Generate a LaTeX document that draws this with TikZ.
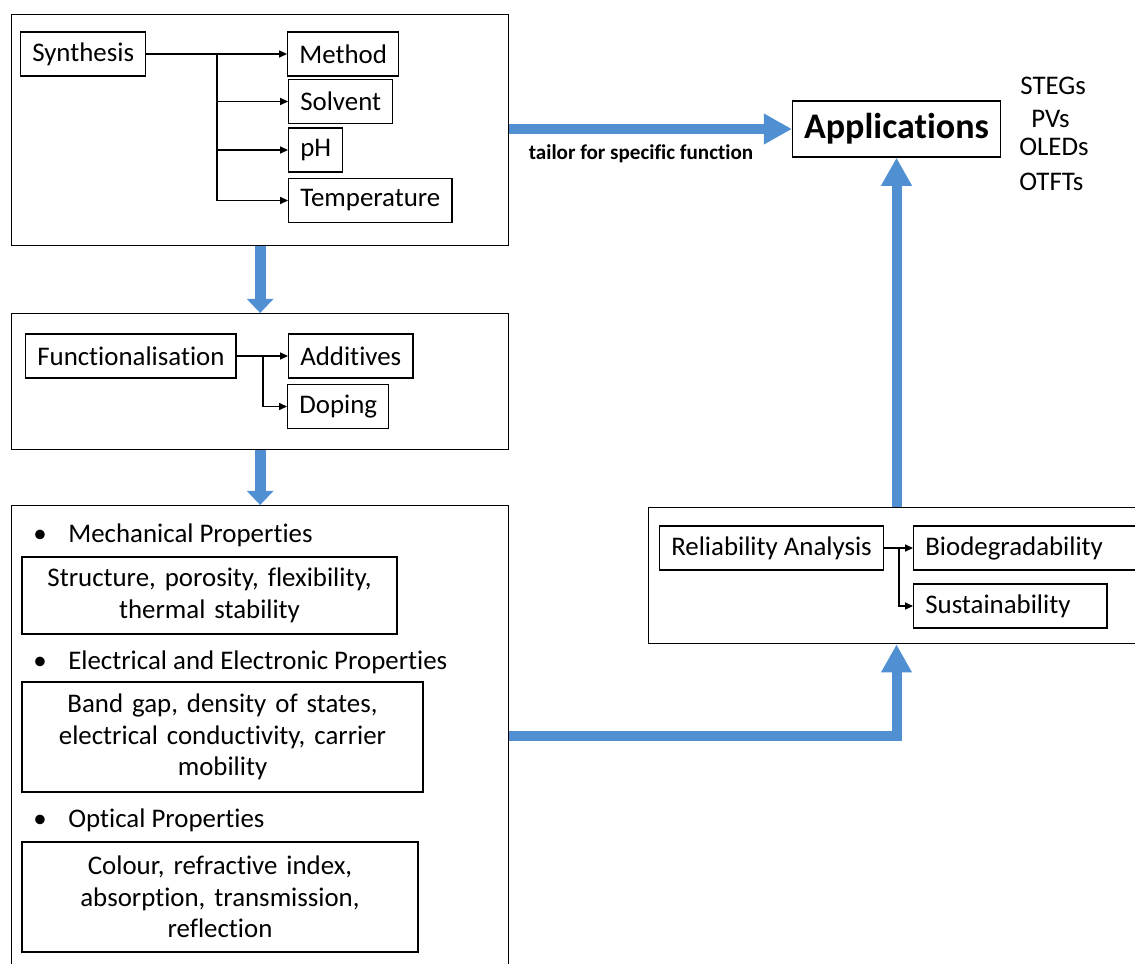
\documentclass[tikz,border=0pt]{standalone}
\usepackage{fontspec}
\setmainfont{Carlito}[Ligatures=NoCommon]
\usepackage{tikz}
\usetikzlibrary{arrows.meta}
\usetikzlibrary{calc}

\definecolor{arrowBlue}{RGB}{79,143,210}
\frenchspacing

\begin{document}
\begin{tikzpicture}[x=0.02cm, y=-0.02cm,
    font=\fontsize{15.3}{18}\selectfont,
    frame/.style={draw, line width=0.8pt, inner sep=0pt, anchor=north west},
    item/.style={draw, line width=0.8pt, inner xsep=6.6pt, inner ysep=0pt, minimum height=0.88cm, anchor=west},
    detail/.style={draw, line width=0.8pt, inner sep=0pt, align=center},
    heading/.style={inner sep=0pt, anchor=west},
    branch/.style={line width=0.75pt, -{Triangle[length=4.5pt, width=4pt]}},
    flowArrow/.style={arrowBlue, line width=6.2pt, -{Triangle[width=14.7pt, length=8pt]}},
    bigArrow/.style={arrowBlue, line width=5.7pt, line join=miter, -{Triangle[width=16.5pt, length=16pt]}}]

    % Page (picture is given in pixels, y downwards)
    \useasboundingbox (0,0) rectangle (1135,963);
    \clip (0,0) rectangle (1135,963);

    % Frames
    \node[frame, minimum width=9.94cm, minimum height=4.62cm] (synthFrame) at (11,14) {};
    \node[frame, minimum width=9.94cm, minimum height=2.72cm] (funcFrame) at (11,313) {};
    % runs off the bottom of the page
    \node[frame, minimum width=9.94cm, minimum height=9.6cm] (propFrame) at (11,505) {};
    % runs off the right of the page
    \node[frame, minimum width=10.04cm, minimum height=2.72cm] (relFrame) at (648,507) {};

    % Synthesis
    \node[item] (synth) at (20,54) {Synthesis};
    \node[item] (method) at (287,54) {Method};
    \node[item] (solvent) at (288,101.5) {Solvent};
    \node[item] (ph) at (288,150) {pH};
    \node[item] (temp) at (288,200.5) {Temperature};

    \coordinate (synthSplit) at (217,54);
    \draw[branch] (synth.east) -- (method.west);
    \draw[branch] (synthSplit) |- (solvent.west);
    \draw[branch] (synthSplit) |- (ph.west);
    \draw[branch] (synthSplit) |- (temp.west);

    % Functionalisation
    \node[item] (func) at (25,356) {Functionalisation};
    \node[item] (additives) at (288,356) {Additives};
    \node[item] (doping) at (287,406.5) {Doping};

    \coordinate (funcSplit) at (263,356);
    \draw[branch] (func.east) -- (additives.west);
    \draw[branch] (funcSplit) |- (doping.west);

    % Properties
    \node[heading] (mechHead) at (33,535) {\makebox[0.7cm][l]{\textbullet}Mechanical Properties};
    \node[detail, text width=7.5cm, minimum height=1.54cm] (mechBox) at (209.5,595.5)
        {Structure, porosity, flexibility,\\ thermal stability};
    \node[heading] (elecHead) at (33,662) {\makebox[0.7cm][l]{\textbullet}Electrical and Electronic Properties};
    \node[detail, text width=8.02cm, minimum height=2.2cm] (elecBox) at (222.5,737)
        {Band gap, density of states,\\ electrical conductivity, carrier\\ mobility};
    \node[heading] (optHead) at (33,820) {\makebox[0.7cm][l]{\textbullet}Optical Properties};
    \node[detail, text width=7.92cm, minimum height=2.2cm] (optBox) at (220,897)
        {Colour, refractive index,\\ absorption, transmission,\\ reflection};

    % Reliability
    \node[item] (rel) at (659,548) {Reliability Analysis};
    \node[item, text width=4.4cm, align=left] (biodeg) at (913,548) {Biodegradability};
    \node[item, text width=3.4cm, align=left] (sustain) at (913,606) {Sustainability};

    \coordinate (relSplit) at (899,548);
    \draw[branch] (rel.east) -- (biodeg.west);
    \draw[branch] (relSplit) |- (sustain.west);

    % Applications
    \node[draw, line width=0.8pt, font=\bfseries\fontsize{20.5}{24}\selectfont,
        minimum height=1.12cm, inner xsep=6.5pt] (apps) at (896.5,129) {Applications};
    \node[heading] (stegs) at (1020,86) {STEGs};
    \node[heading] (pvs) at (1031,119) {PVs};
    \node[heading] (oleds) at (1019,147) {OLEDs};
    \node[heading] (otfts) at (1019,182) {OTFTs};

    % Flow arrows
    \draw[flowArrow] (synthFrame.south) -- (funcFrame.north);
    \draw[flowArrow] (funcFrame.south) -- (propFrame.north);

    \draw[bigArrow] (synthFrame.east |- apps.west) -- (apps.west);
    \node[font=\bfseries\fontsize{12}{14}\selectfont, anchor=base] (tailor) at (641,159)
        {tailor for specific function};

    \coordinate (lBend) at (896.5,736);
    \draw[bigArrow] (lBend -| propFrame.east) -- (lBend) -- (apps.south |- relFrame.south);
    \draw[bigArrow] (apps.south |- relFrame.north) -- (apps.south);

\end{tikzpicture}
\end{document}
